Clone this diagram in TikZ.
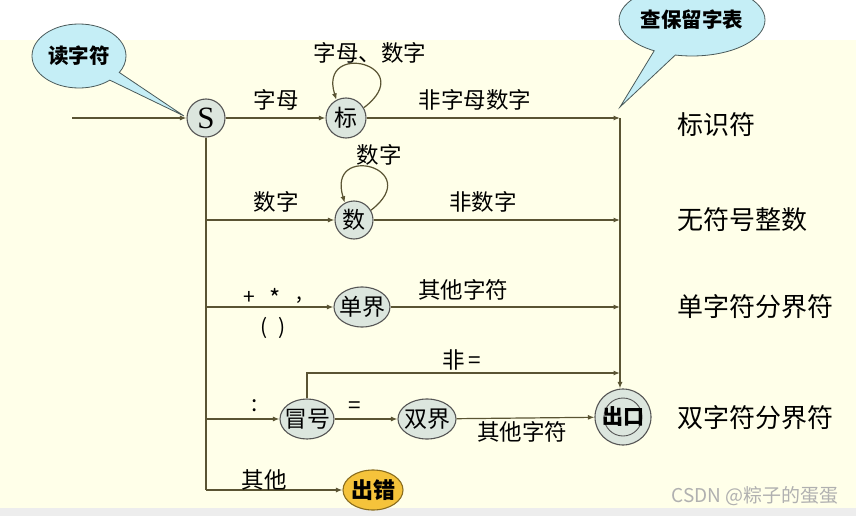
\documentclass[tikz,border=0pt]{standalone}
\usepackage{fontspec}
\setmainfont{Noto Sans CJK SC}
\newfontfamily\tms{Liberation Serif}
\usetikzlibrary{arrows.meta,shapes.geometric,shapes.callouts}
\definecolor{bgC}{HTML}{FFFFE9}
\definecolor{nodeC}{HTML}{DCE6DE}
\definecolor{bordC}{HTML}{555555}
\definecolor{lineC}{HTML}{5A5433}
\definecolor{errC}{HTML}{F5C33B}
\definecolor{errB}{HTML}{8A6D1E}
\definecolor{callC}{HTML}{C5EEF6}
\definecolor{callB}{HTML}{4A5A5A}
\definecolor{wmC}{HTML}{B0B0B0}
\tikzset{
  st/.style={draw=bordC, fill=nodeC, line width=1.1pt, inner sep=0pt, font=\fontsize{23}{25}\selectfont},
  ln/.style={draw=lineC, line width=1.2pt},
  arr/.style={-{Latex[length=6.5pt,width=5pt]}},
  lab/.style={inner sep=0pt, font=\fontsize{22.5}{24}\selectfont},
  big/.style={inner sep=0pt, anchor=west, font=\fontsize{26}{28}\selectfont},
  callout/.style={ellipse callout, draw=callB, fill=callC, line width=0.8pt, inner sep=0pt, callout pointer arc=18, font=\fontsize{20.5}{22}\selectfont\bfseries}
}
\begin{document}
\begin{tikzpicture}[x=1pt,y=-1pt]
\useasboundingbox (0,0) rectangle (856,516);
\fill[white] (0,0) rectangle (856,40);
\fill[bgC] (0,40) rectangle (856,508);
\fill[black!7] (0,508) rectangle (856,516);

% nodes
\node[st, circle, minimum size=38] (S) at (206,118) {\makebox[0pt]{\tms\fontsize{31}{32}\selectfont S}};
\node[st, circle, minimum size=40] (biao) at (346,118) {\makebox[0pt]{标}};
\node[st, circle, minimum size=38] (shu) at (354,220) {\makebox[0pt]{数}};
\node[st, ellipse, minimum width=56, minimum height=40] (dan) at (362,307) {\makebox[0pt]{单界}};
\node[st, ellipse, minimum width=54, minimum height=40] (mao) at (307,419) {\makebox[0pt]{冒号}};
\node[st, ellipse, minimum width=58, minimum height=40] (shuang) at (427,419) {\makebox[0pt]{双界}};
\node[st, circle, minimum size=56] (out) at (623,417) {};
\node[draw=bordC, line width=0.9pt, circle, minimum size=38, inner sep=0pt, font=\fontsize{21}{23}\selectfont\bfseries] (outin) at (out) {\makebox[0pt]{出口}};
\node[draw=errB, fill=errC, line width=1.1pt, ellipse, minimum width=60, minimum height=40, inner sep=0pt, font=\fontsize{22}{24}\selectfont\bfseries] (err) at (373,490) {\makebox[0pt]{出错}};

% junction coordinates
\coordinate (in) at (72,118);
\coordinate (j1) at (620,118);
\coordinate (j2) at (620,220);
\coordinate (j3) at (620,307);
\coordinate (j4) at (620,373);
\coordinate (p1) at (620,107);

% callouts
\node[callout, minimum width=94, minimum height=64, callout absolute pointer={(184,116)}] (read) at (79,56) {读字符};
\node[callout, minimum width=146, minimum height=72, callout absolute pointer={(p1)}] (look) at (692,20) {查保留字表};

% connectors
\draw[ln,arr] (in) -- (S);
\draw[ln,arr] (S) -- (biao);
\draw[ln,arr] (biao) -- (j1);
\draw[ln] (S.south) -- (S.south |- err);
\draw[ln,arr] (S.south |- err) -- (err);
\draw[ln,arr] (S.south |- shu) -- (shu);
\draw[ln,arr] (shu) -- (j2);
\draw[ln,arr] (S.south |- dan) -- (dan);
\draw[ln,arr] (dan) -- (j3);
\draw[ln,arr] (S.south |- mao) -- (mao);
\draw[ln,arr] (mao) -- (shuang);
\draw[ln,arr] (shuang) -- (out);
\draw[ln,arr] (mao.north) |- (j4);
\draw[ln,arr] (j1) -- (j1 |- out.north);
% self loops
\draw[ln,arr] (biao.30) .. controls (420,65) and (318,40) .. (biao.118);
\draw[ln,arr] (shu.30) .. controls (426,168) and (326,142) .. (shu.118);

% edge labels
\node[lab] (l1) at (370,53) {字母、数字};
\node[lab] (l2) at (276,100) {字母};
\node[lab] (l3) at (475,100) {非字母数字};
\node[lab] (l4) at (379,155) {数字};
\node[lab] (l5) at (276,202) {数字};
\node[lab] (l6) at (483,202) {非数字};
\node[lab, font=\fontsize{21}{22}\selectfont] (l7a) at (249,298) {+};
\node[lab, font=\fontsize{24}{26}\selectfont] (l7b) at (275,298) {*};
\node[lab, font=\fontsize{21}{22}\selectfont] (l7c) at (299,300) {,};
\node[lab, font=\fontsize{21}{22}\selectfont] (l8) at (273,328) {(\hspace{10pt})};
\node[lab] (l9) at (463,290) {其他字符};
\node[lab] (l10) at (255,406) {:};
\node[lab] (l11) at (355,408) {=};
\node[lab] (l12) at (462,360) {非\,=};
\node[lab] (l13) at (522,432) {其他字符};
\node[lab] (l14) at (264,480) {其他};

% right labels
\node[big] (r1) at (677,125) {标识符};
\node[big] (r2) at (677,220) {无符号整数};
\node[big] (r3) at (677,307) {单字符分界符};
\node[big] (r4) at (677,418) {双字符分界符};

% watermark
\node[inner sep=0pt, text=wmC, font=\fontsize{19}{21}\selectfont] (wm) at (755,496) {CSDN @粽子的蛋蛋};
\end{tikzpicture}
\end{document}
